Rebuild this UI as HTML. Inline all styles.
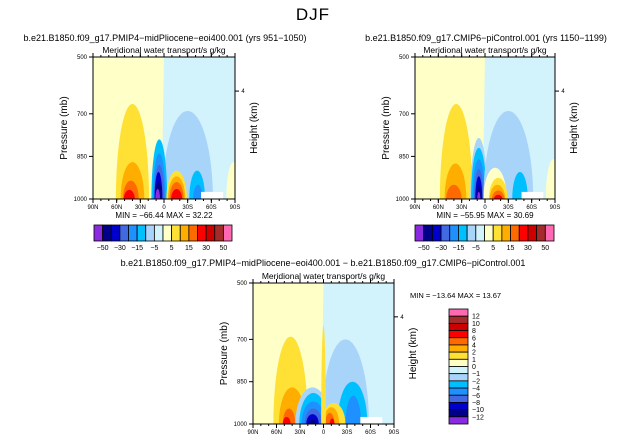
<!DOCTYPE html>
<html><head><meta charset="utf-8"><style>
html,body{margin:0;padding:0;background:#fff;overflow:hidden;width:627px;height:442px}
svg{display:block}
svg text{font-family:"Liberation Sans",sans-serif;fill:#000}
</style></head><body>
<svg id="c" width="627" height="442" xmlns="http://www.w3.org/2000/svg">
<text x="313" y="20" font-size="17" text-anchor="middle" style="letter-spacing:1px">DJF</text>
</svg>
<script>
const NS="http://www.w3.org/2000/svg";
const svg=document.getElementById('c');
const colors=["#8a2be2","#00008b","#0000cd","#4169e1","#1e90ff","#00bfff","#a8d4fa","#d2f2fc","#ffffc8","#ffe135","#ffae00","#ff6a00","#ff0000","#cd0000","#a52a2a","#ff69b4"];
const latTicks=[90,60,30,0,-30,-60,-90];
const latLabels=["90N","60N","30N","0","30S","60S","90S"];
const presTicks=[500,700,850,1000];
const topBarLabels=["-50","-30","-15","-5","5","15","30","50"];
const diffBarLabels=["12","10","8","6","4","2","1","0","-1","-2","-4","-6","-8","-10","-12"];
// blobs: [lat center, lat half-width, top pressure, color level index]
const blobsA=[[40,21,665,9],[40,15,870,10],[42,10,935,11],[44,7,968,12],[-30,32,690,6],[6,10,790,5],[6,8,840,4],[6,6.5,880,3],[7,5,905,2],[7,4,935,1],[8,3,965,0],[-16,13,900,9],[-16,11,920,10],[-16,9,940,11],[-16,7,965,12],[-42,10,900,5],[-43,6,950,4],[-88,9,870,8]];
const blobsB=[[37,21,665,9],[38,14,875,10],[40,10,950,11],[8,11,785,6],[8,10,820,5],[8,8,860,4],[8,6,895,3],[8,4.5,920,2],[8,3,950,1],[8,2,975,0],[-30,32,690,6],[-13,15,890,8],[-17,12,925,9],[-16,10,950,10],[-17,8,970,11],[-17,5.5,985,12],[-45,10,905,5],[-88,10,860,8]];
const blobsD=[[42,22,690,9],[40,17,870,10],[44,8,945,11],[47,5,975,12],[14,22,870,6],[13,18,890,5],[13,15,920,4],[13,11,945,3],[14,8,965,2],[14,5,985,1],[-28,30,700,6],[-37,19,850,5],[-38,10,900,4],[-13,15,925,9],[-10,10,940,10],[-8,6,960,11],[-11,3,980,12],[0,3,650,9]];
function el(tag,attrs,name,parent){const e=document.createElementNS(NS,tag);for(const k in attrs)e.setAttribute(k,attrs[k]);


(parent||svg).appendChild(e);return e;}
function txt(x,y,s,size,anchor,name,rot){const t=el('text',{x:x,y:y,'font-size':size,'text-anchor':anchor||'start'},name);if(rot)t.setAttribute('transform','rotate(-90 '+x+' '+y+')');t.textContent=s;return t;}
function panel(x0,y0,w,h,blobs,id){
  const xs=lat=>x0+(90-lat)/180*w;
  const ys=p=>y0+(p-500)/500*h;
  const g=el('g',{},'plot-'+id);
  const cp=el('clipPath',{id:'cp'+id},'clip-'+id,g);
  el('rect',{x:x0,y:y0,width:w,height:h},'clip-rect',cp);
  const inner=el('g',{'clip-path':'url(#cp'+id+')'},'contour-area-'+id,g);
  el('rect',{x:x0,y:y0,width:w,height:h,fill:colors[7]},'background-negative',inner);
  el('path',{d:`M${x0} ${y0}H${xs(0)}L${xs(3)} ${y0+h}H${x0}Z`,fill:colors[8]},'background-positive',inner);
  blobs.forEach(b=>{
    const cx=xs(b[0]),rx=b[1]/180*w,ry=ys(1000)-ys(b[2]);
    el('ellipse',{cx:cx,cy:ys(1000),rx:rx,ry:ry,fill:colors[b[3]]},'contour-blob',inner);
  });
  el('rect',{x:xs(-47),y:ys(975),width:xs(-75)-xs(-47),height:ys(1000)-ys(975),fill:"#fff"},'missing-data',inner);
  el('rect',{x:x0,y:y0,width:w,height:h,fill:'none',stroke:'#000','stroke-width':1},'plot-frame',g);
  latTicks.forEach((l,i)=>{el('line',{x1:xs(l),x2:xs(l),y1:y0+h,y2:y0+h+4,stroke:'#000'},'x-tick',g);
    el('line',{x1:xs(l),x2:xs(l),y1:y0,y2:y0-4,stroke:'#000'},'x-tick-top',g);
    txt(xs(l),y0+h+10,latLabels[i],6,'middle','x-tick-label');});
  for(let l=80;l>-90;l-=10){el('line',{x1:xs(l),x2:xs(l),y1:y0+h,y2:y0+h+2,stroke:'#000'},'x-minor-tick',g);el('line',{x1:xs(l),x2:xs(l),y1:y0,y2:y0-2,stroke:'#000'},'x-minor-tick',g);}
  presTicks.forEach(p=>{el('line',{x1:x0-4,x2:x0,y1:ys(p),y2:ys(p),stroke:'#000'},'y-tick',g);txt(x0-6,ys(p)+2,String(p),6,'end','y-tick-label');});
  el('line',{x1:x0+w,x2:x0+w+4,y1:ys(620),y2:ys(620),stroke:'#000'},'y-right-tick',g);
  txt(x0+w+8,ys(620)+2,'4',6,'middle','y-right-tick-label');
  txt(x0-26,y0+h/2,'Pressure (mb)',10,'middle','y-axis-title',true);
  txt(x0+w+22,y0+h/2,'Height (km)',10,'middle','y-right-axis-title',true);
  txt(x0+w/2,y0-4,'Meridional water transport/s g/kg',8.5,'middle','panel-subtitle');
}
function hbar(x0,y0,w,h){
  const bw=w/16;
  colors.forEach((c,i)=>el('rect',{x:x0+i*bw,y:y0,width:bw,height:h,fill:c,stroke:'#000','stroke-width':0.8},'colorbar-box'));
  topBarLabels.forEach((s,i)=>txt(x0+bw*(i*2+1),y0+h+9,s.replace('-','\u2212'),7,'middle','colorbar-label'));
}
panel(93,57,142,142,blobsA,'a');
panel(415,57,140,142,blobsB,'b');
panel(253,283,141,141,blobsD,'d');
hbar(94,225,138,16);
hbar(415,225,139,16);
txt(165,41,'b.e21.B1850.f09_g17.PMIP4\u2212midPliocene\u2212eoi400.001  (yrs 951\u22121050)',9,'middle','panel-a-title');
txt(486,41,'b.e21.B1850.f09_g17.CMIP6\u2212piControl.001  (yrs 1150\u22121199)',9,'middle','panel-b-title');
txt(323,266,'b.e21.B1850.f09_g17.PMIP4\u2212midPliocene\u2212eoi400.001  \u2212  b.e21.B1850.f09_g17.CMIP6\u2212piControl.001',9,'middle','panel-diff-title');
txt(164,218,'MIN = \u221266.44   MAX =  32.22',8,'middle','stats-a');
txt(485,218,'MIN = \u221255.95   MAX =  30.69',8,'middle','stats-b');
txt(410,298,'MIN = \u221213.64   MAX =  13.67',7.5,'start','stats-diff');
const vb=115/16;
colors.slice().reverse().forEach((c,i)=>el('rect',{x:449,y:309+i*vb,width:19,height:vb,fill:c,stroke:'#000','stroke-width':0.8},'diff-colorbar-box'));
diffBarLabels.forEach((s,i)=>txt(472,309+vb*(i+1)+2.5,s.replace('-','\u2212'),7,'start','diff-colorbar-label'));
</script>
</body></html>
